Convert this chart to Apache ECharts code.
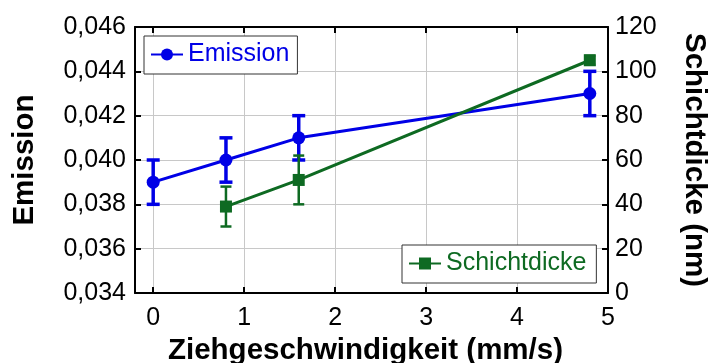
<!DOCTYPE html>
<html><head><meta charset="utf-8">
<script src="https://cdn.jsdelivr.net/npm/echarts@6/dist/echarts.min.js"></script>
<style>html,body{margin:0;padding:0;background:#fff}#c{width:712px;height:363px}</style>
</head><body><div id="c"></div>
<script>
// ---- data ----
const xTicks = [0, 1, 2, 3, 4, 5];
const emissionX = [0, 0.8, 1.6, 4.8];
const emissionY = [0.039, 0.040, 0.041, 0.043];
const emissionErr = [0.001, 0.001, 0.001, 0.001];
const schichtX = [0.8, 1.6, 4.8];
const schichtY = [39, 51, 105];
const schichtErr = [9, 11, 2];

const BLUE = '#0000e6';
const GREEN = '#0e6a22';
const FONT = 'Liberation Sans, Arial, sans-serif';

const emissionData = emissionX.map((x, i) => [x, emissionY[i]]);
const emissionErrData = emissionX.map((x, i) => [x, emissionY[i] - emissionErr[i], emissionY[i] + emissionErr[i]]);
const schichtData = schichtX.map((x, i) => [x, schichtY[i]]);
const schichtErrData = schichtX.map((x, i) => [x, schichtY[i] - schichtErr[i], schichtY[i] + schichtErr[i]]);

function errRender(color, half, lw) {
  return function (params, api) {
    const x = api.value(0), lo = api.value(1), hi = api.value(2);
    const p1 = api.coord([x, lo]), p2 = api.coord([x, hi]);
    const st = { stroke: color, lineWidth: lw };
    return { type: 'group', children: [
      { type: 'line', shape: { x1: p1[0], y1: p1[1], x2: p2[0], y2: p2[1] }, style: st },
      { type: 'line', shape: { x1: p1[0] - half, y1: p1[1], x2: p1[0] + half, y2: p1[1] }, style: st },
      { type: 'line', shape: { x1: p2[0] - half, y1: p2[1], x2: p2[0] + half, y2: p2[1] }, style: st }
    ]};
  };
}

const axisLineStyle = { color: '#000', width: 2 };
const chart = echarts.init(document.getElementById('c'), null, { renderer: 'canvas' });
chart.setOption({
  animation: false,
  backgroundColor: '#fff',
  textStyle: { fontFamily: FONT },
  grid: { left: 135, right: 104, top: 27, bottom: 70, containLabel: false, outerBoundsMode: 'none' },
  legend: [
    { data: ['Emission'], left: 144, top: 36, orient: 'horizontal', backgroundColor: '#fff',
      borderColor: '#333', borderWidth: 1, borderRadius: 0, padding: [6, 8, 7, 6],
      itemWidth: 32, itemHeight: 15, textStyle: { fontSize: 25, color: BLUE, fontFamily: FONT } },
    { data: ['Schichtdicke'], left: 402, top: 245, orient: 'horizontal', backgroundColor: '#fff',
      borderColor: '#333', borderWidth: 1, borderRadius: 0, padding: [6, 10, 7, 6],
      itemWidth: 32, itemHeight: 15, textStyle: { fontSize: 25, color: GREEN, fontFamily: FONT } }
  ],
  xAxis: [
    { type: 'value', min: -0.2, max: 5, position: 'bottom',
      name: 'Ziehgeschwindigkeit (mm/s)', nameLocation: 'middle', nameGap: 41,
      nameTextStyle: { fontSize: 29.5, fontWeight: 'bold', color: '#000', fontFamily: FONT, padding: [0, 12, 0, 0] },
      axisLine: { show: true, onZero: false, lineStyle: axisLineStyle },
      axisTick: { show: true, inside: true, length: 6, customValues: xTicks, lineStyle: { color: '#000', width: 2 } },
      axisLabel: { customValues: xTicks, fontSize: 25, color: '#000', margin: 13, fontFamily: FONT, showMaxLabel: true },
      splitLine: { show: true, lineStyle: { color: '#c8c8c8', width: 1 } } },
    { type: 'value', min: -0.2, max: 5, position: 'top',
      axisLine: { show: true, onZero: false, lineStyle: axisLineStyle },
      axisTick: { show: true, inside: true, length: 6, customValues: xTicks, lineStyle: { color: '#000', width: 2 } },
      axisLabel: { show: false }, splitLine: { show: false } }
  ],
  yAxis: [
    { type: 'value', min: 0.034, max: 0.046, interval: 0.002, position: 'left',
      name: 'Emission', nameLocation: 'middle', nameGap: 95,
      nameTextStyle: { fontSize: 29.5, fontWeight: 'bold', color: '#000', fontFamily: FONT },
      axisLine: { show: true, onZero: false, lineStyle: axisLineStyle },
      axisTick: { show: true, inside: true, length: 6, lineStyle: { color: '#000', width: 2 } },
      axisLabel: { fontSize: 25, color: '#000', margin: 9, fontFamily: FONT,
        formatter: v => v.toFixed(3).replace('.', ',') },
      splitLine: { show: true, lineStyle: { color: '#c8c8c8', width: 1 } } },
    { type: 'value', min: 0, max: 120, interval: 20, position: 'right',
      name: 'Schichtdicke (nm)', nameLocation: 'middle', nameGap: 71, nameRotate: -90,
      nameTextStyle: { fontSize: 29.5, fontWeight: 'bold', color: '#000', fontFamily: FONT },
      axisLine: { show: true, onZero: false, lineStyle: axisLineStyle },
      axisTick: { show: true, inside: true, length: 6, lineStyle: { color: '#000', width: 2 } },
      axisLabel: { fontSize: 25, color: '#000', margin: 7, fontFamily: FONT },
      splitLine: { show: false } }
  ],
  series: [
    { name: 'errE', type: 'custom', xAxisIndex: 0, yAxisIndex: 0, renderItem: errRender(BLUE, 6.5, 3.5),
      data: emissionErrData, encode: { x: 0, y: [1, 2] }, z: 3, silent: true },
    { name: 'Emission', type: 'line', xAxisIndex: 0, yAxisIndex: 0, data: emissionData,
      symbol: 'circle', symbolSize: 13, color: BLUE, lineStyle: { color: BLUE, width: 3 },
      itemStyle: { color: BLUE }, z: 4 },
    { name: 'errS', type: 'custom', xAxisIndex: 0, yAxisIndex: 1, renderItem: errRender(GREEN, 5.5, 2.5),
      data: schichtErrData, encode: { x: 0, y: [1, 2] }, z: 3, silent: true },
    { name: 'Schichtdicke', type: 'line', xAxisIndex: 0, yAxisIndex: 1, data: schichtData,
      symbol: 'rect', symbolSize: 12, color: GREEN, lineStyle: { color: GREEN, width: 3 },
      itemStyle: { color: GREEN }, z: 4 }
  ]
});
</script></body></html>
